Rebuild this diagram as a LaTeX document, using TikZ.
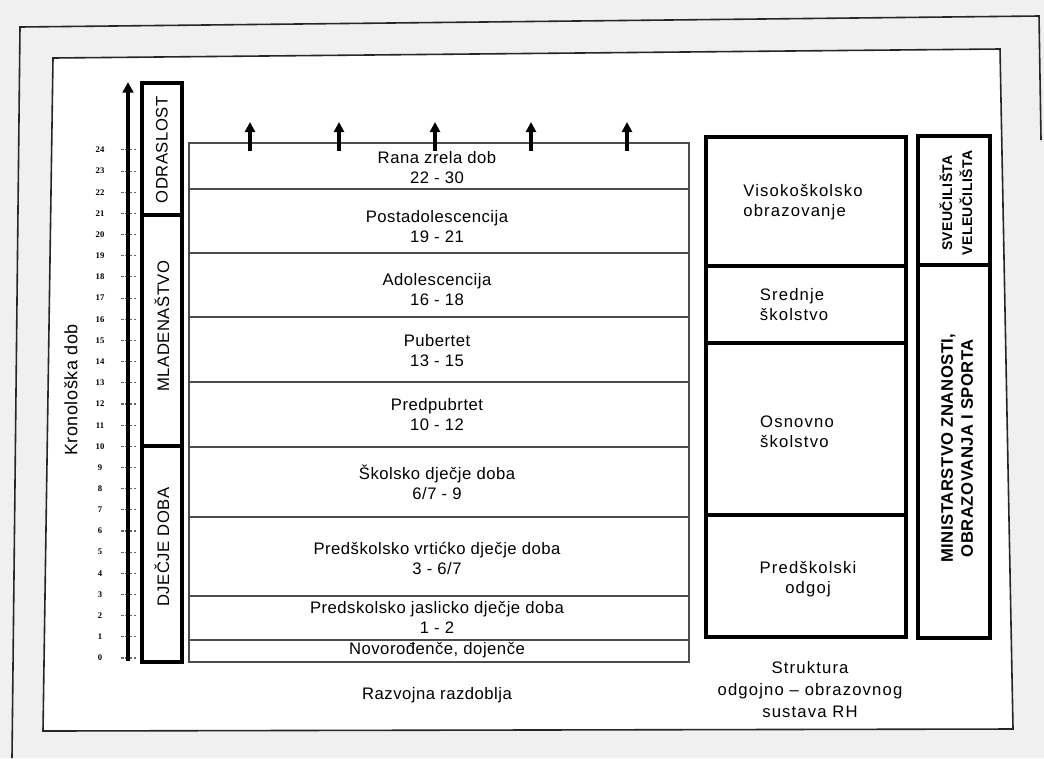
\documentclass[tikz,border=0pt]{standalone}
\usepackage{fontspec}
\setmainfont{Liberation Sans}[LetterSpace=3]
\newfontfamily\widefont{Liberation Sans}[LetterSpace=7]
\newfontfamily\numfont{Liberation Serif}
\usetikzlibrary{arrows.meta}

\tikzset{
  frameline/.style={draw=black!85, line width=1.2pt},
  rowline/.style={draw=black!70, line width=1pt},
  agebox/.style={draw=black, line width=2.4pt},
  schoolbox/.style={draw=black, line width=2.6pt},
  tickline/.style={draw=black!60, line width=0.8pt, dash pattern=on 2pt off 1.2pt},
  ticknum/.style={font=\numfont\bfseries\fontsize{6.5}{7}\selectfont, inner sep=0pt},
  phase/.style={font=\fontsize{12.5}{15}\selectfont, align=center, inner sep=0pt},
  school/.style={font=\widefont\fontsize{12.5}{15}\selectfont, align=left, inner sep=0pt},
  vlabel/.style={font=\fontsize{12.5}{15}\selectfont, rotate=90, inner sep=0pt},
  inst/.style={font=\bfseries\fontsize{10.5}{15}\selectfont, align=center, rotate=90, inner sep=0pt},
  uparrow/.style={line width=2.4pt, -{Triangle[length=7.5pt,width=7.5pt]}},
}

\begin{document}
\begin{tikzpicture}[x=0.75pt, y=-0.75pt]
  \useasboundingbox (0,0) rectangle (1044,758);
  \fill[black!6] (0,0) rectangle (1044,758);
  % page and frame
  \fill[white] (43,731) -- (53,58) -- (1000,49) -- (1013,729) -- cycle;
  \draw[frameline] (12,758) -- (20,27) -- (1039,16) -- (1041,140);
  \draw[frameline] (43,731) -- (53,58) -- (1000,49) -- (1013,729) -- cycle;

  % age axis
  \foreach \i in {0,...,24} {
    \node[ticknum] (n\i) at (100,{658-21.17*\i}) {\i}; %
    \draw[tickline] (121,{658-21.17*\i}) -- (138,{658-21.17*\i});
  }
  \coordinate (ax0) at (128,661); \coordinate (ax1) at (128,82);
  \draw[line width=3pt, -{Triangle[length=8pt,width=8pt]}] (ax0) -- (ax1);
  \node[vlabel, font=\fontsize{13.5}{16}\selectfont] (kron) at (71,390) {Kronološka dob}; %

  % life stages
  \draw[agebox] (142,83) rectangle (182,215);
  \draw[agebox] (142,215) rectangle (182,446);
  \draw[agebox] (142,446) rectangle (182,662);
  \node[vlabel] (odr) at (162,150) {ODRASLOST}; %
  \node[vlabel] (mlad) at (162,326) {MLADENAŠTVO}; %
  \node[vlabel] (djec) at (162,547) {DJEČJE DOBA}; %

  % development periods
  \foreach \a/\b in {143/189, 189/253, 253/317, 317/382, 382/447, 447/517, 517/596, 596/640, 640/662}
    \draw[rowline] (189,\a) rectangle (689,\b);
  \foreach \x [count=\k] in {250,339,435,531,627} {
    \coordinate (base\k) at (\x,151); \coordinate (tip\k) at (\x,122);
    \draw[uparrow] (base\k) -- (tip\k);
  }
  \node[phase] (rana) at (437,168) {Rana zrela dob\\22 - 30}; %
  \node[phase] (post) at (437,227) {Postadolescencija\\19 - 21}; %
  \node[phase] (adol) at (437,290) {Adolescencija\\16 - 18}; %
  \node[phase] (pub) at (437,351) {Pubertet\\13 - 15}; %
  \node[phase] (pred) at (437,415) {Predpubrtet\\10 - 12}; %
  \node[phase] (skol) at (437,482) {Školsko dječje doba\\6/7 - 9}; %
  \node[phase] (vrt) at (437,558) {Predškolsko vrtićko dječje doba\\3 - 6/7}; %
  \node[phase] (jas) at (437,617) {Predskolsko jaslicko dječje doba\\1 - 2}; %
  \node[phase] (novo) at (437,650) {Novorođenče, dojenče}; %
  \node[phase] (razv) at (437,695) {Razvojna razdoblja}; %

  % school system
  \draw[schoolbox] (706,137) rectangle (906,266);
  \draw[schoolbox] (706,266) rectangle (906,343);
  \draw[schoolbox] (706,343) rectangle (906,515);
  \draw[schoolbox] (706,515) rectangle (906,637);
  \node[school] (viso) at (803,202) {Visokoškolsko\\obrazovanje}; %
  \node[school] (sred) at (794,305) {Srednje\\školstvo}; %
  \node[school] (osn) at (797,432) {Osnovno\\školstvo}; %
  \node[school, align=center] (pskol) at (808,579) {Predškolski\\odgoj}; %
  \node[phase, font=\widefont\fontsize{12.5}{16.5}\selectfont] (strukt) at (810,690) {Struktura\\odgojno – obrazovnog\\sustava RH}; %

  % institutions
  \draw[schoolbox] (918,136) rectangle (990,265);
  \draw[schoolbox] (918,265) rectangle (990,638);
  \node[inst] (sveu) at (956,203) {SVEUČILIŠTA\\VELEUČILIŠTA}; %
  \node[inst, font=\bfseries\fontsize{12.5}{15}\selectfont] (min) at (957,448) {MINISTARSTVO ZNANOSTI,\\OBRAZOVANJA I SPORTA}; %
\end{tikzpicture}
\end{document}
